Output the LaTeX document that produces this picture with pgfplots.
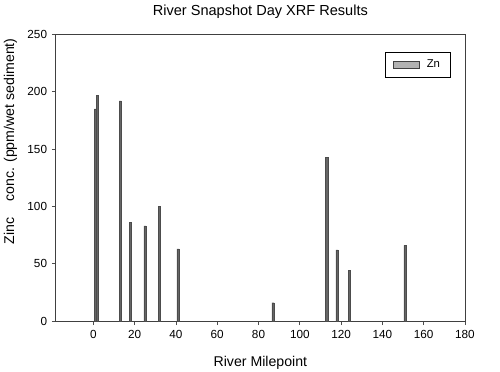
\documentclass[border=0pt]{standalone}
\usepackage{fontspec}
\setmainfont{Liberation Sans}
\usepackage{pgfplots}
\pgfplotsset{compat=1.18}
\begin{document}
\begin{tikzpicture}
\begin{axis}[
  name=ax,
  scale only axis,
  width=306.75pt, height=215pt,
  xmin=-18.2, xmax=180, ymin=0, ymax=250,
  xtick={0,20,...,180}, ytick={0,50,...,250},
  tick align=outside, tick pos=left,
  major tick length=3pt,
  tick style={black!70, line width=0.5pt},
  axis line style={black!75, line width=0.6pt},
  /pgf/number format/assume math mode=true,
  ticklabel style={font=\fontsize{8.8}{10}\selectfont},
  xlabel={River Milepoint},
  ylabel={Zinc\ \ \ \ conc. (ppm/wet sediment)},
  label style={font=\fontsize{10.6}{12}\selectfont},
  xlabel style={yshift=-7pt},
  ylabel style={at={(ticklabel cs:0.627)}, yshift=1pt},
  title={River Snapshot Day XRF Results},
  title style={font=\fontsize{10.9}{12}\selectfont, yshift=2pt},
  legend style={at={(0.966,0.937)}, anchor=north east, draw=black, line width=0.6pt,
    font=\fontsize{8.5}{10}\selectfont, inner xsep=6pt, inner ysep=3.5pt,
    /tikz/every odd column/.append style={column sep=3pt}},
  legend image code/.code={\draw[#1, draw=black!75, fill=black!30, line width=0.5pt] (0cm,-0.09cm) rectangle (0.69cm,0.09cm);},
]
\addplot[ybar, bar width=1.7pt, fill=black!60, draw=black!70, line width=0.3pt] coordinates {
  (1,185) (2,197) (13,192) (18,86) (25,83) (32,100) (41,63)
  (87,16) (113,143) (118,62) (124,44) (151,66)
};
\addlegendentry{Zn}
\end{axis}
\pgfresetboundingbox
\path[use as bounding box] ([shift={(-41.8pt,-37.5pt)}]ax.south west) rectangle ([shift={(26.25pt,25.7pt)}]ax.north east);
\end{tikzpicture}
\end{document}
